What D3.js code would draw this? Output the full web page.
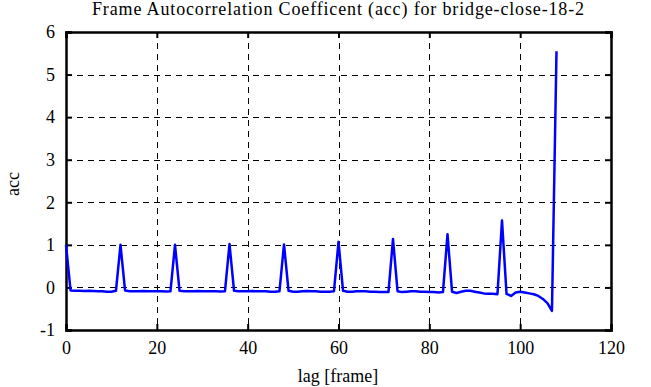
<!DOCTYPE html>
<html><head><meta charset="utf-8">
<script src="https://cdn.jsdelivr.net/npm/d3@7/dist/d3.min.js"></script>
<style>body{margin:0;background:#fff}svg{display:block}text{font-family:"Liberation Serif","DejaVu Serif",serif;fill:#000}</style>
</head><body><svg id="c" width="651" height="387"></svg>
<script>
const title = "Frame Autocorrelation Coefficent (acc) for bridge-close-18-2";
const xLabel = "lag [frame]";
const yLabel = "acc";
const xTicks = [0,20,40,60,80,100,120];
const yTicks = [-1,0,1,2,3,4,5,6];
const acc = [
 1.00,-0.07,-0.08,-0.08,-0.085,-0.08,-0.085,-0.09,-0.09,-0.10,-0.10,-0.08,
 1.00,-0.07,-0.09,-0.09,-0.09,-0.085,-0.09,-0.09,-0.09,-0.09,-0.095,-0.09,
 1.00,-0.08,-0.09,-0.09,-0.09,-0.085,-0.09,-0.09,-0.09,-0.09,-0.095,-0.09,
 1.02,-0.08,-0.09,-0.09,-0.09,-0.085,-0.09,-0.09,-0.09,-0.10,-0.10,-0.09,
 1.01,-0.08,-0.10,-0.10,-0.09,-0.085,-0.09,-0.09,-0.10,-0.10,-0.10,-0.09,
 1.07,-0.08,-0.10,-0.10,-0.09,-0.09,-0.09,-0.10,-0.10,-0.11,-0.11,-0.11,
 1.14,-0.09,-0.11,-0.10,-0.09,-0.09,-0.10,-0.10,-0.11,-0.11,-0.12,-0.11,
 1.25,-0.10,-0.13,-0.10,-0.08,-0.08,-0.10,-0.12,-0.14,-0.15,-0.15,-0.16,
 1.57,-0.15,-0.20,-0.12,-0.10,-0.12,-0.14,-0.16,-0.20,-0.27,-0.37,-0.55,
 5.55
];
const lags = acc.map((_, i) => i);

const FONT = "Liberation Serif, DejaVu Serif, serif";
const svg = d3.select("#c");
const m = {l:66, r:611, t:32, b:330};
const x = d3.scaleLinear().domain([0,120]).range([m.l, m.r]);
const y = d3.scaleLinear().domain([-1,6]).range([m.b, m.t]);
const fmt = d => String(d);

// grid
const grid = svg.append("g").attr("stroke","#000").attr("stroke-width",1).attr("stroke-dasharray","6,5");
xTicks.slice(1,-1).forEach(t => grid.append("line").attr("x1",Math.round(x(t))+0.5).attr("x2",Math.round(x(t))+0.5).attr("y1",m.t).attr("y2",m.b));
yTicks.slice(1,-1).forEach(t => grid.append("line").attr("y1",Math.round(y(t))+0.5).attr("y2",Math.round(y(t))+0.5).attr("x1",m.l).attr("x2",m.r));

// axes with inner ticks
const axB = d3.axisBottom(x).tickValues(xTicks).tickFormat(fmt).tickSize(-6).tickPadding(11);
const axT = d3.axisTop(x).tickValues(xTicks).tickSize(-6).tickFormat("");
const axL = d3.axisLeft(y).tickValues(yTicks).tickFormat(fmt).tickSize(-6).tickPadding(11);
const axR = d3.axisRight(y).tickValues(yTicks).tickSize(-6).tickFormat("");
function style(g){
  g.attr("font-family", FONT).attr("font-size", 18);
  g.selectAll("path,line").attr("stroke","#000").attr("stroke-width",2);
  g.selectAll("text").attr("font-family", FONT).attr("font-size", 18).attr("fill","#000");
}
svg.append("g").attr("transform",`translate(0,${m.b})`).call(axB).call(style);
svg.append("g").attr("transform",`translate(0,${m.t})`).call(axT).call(style);
svg.append("g").attr("transform",`translate(${m.l},0)`).call(axL).call(style);
svg.append("g").attr("transform",`translate(${m.r},0)`).call(axR).call(style);
svg.selectAll(".domain").attr("stroke-width",2.5);

// line
const line = d3.line().x((d,i)=>x(lags[i])).y(d=>y(d));
svg.append("path").datum(acc).attr("d",line).attr("fill","none").attr("stroke","#0000ff").attr("stroke-width",2.5).attr("stroke-linejoin","round");

svg.append("text").attr("x",338).attr("y",15).attr("text-anchor","middle").attr("font-family",FONT).attr("font-size",18)
  .attr("textLength",492).attr("lengthAdjust","spacing").text(title);
svg.append("text").attr("x",338).attr("y",382).attr("text-anchor","middle").attr("font-family",FONT).attr("font-size",18).text(xLabel);
svg.append("text").attr("transform","translate(19,184) rotate(-90)").attr("text-anchor","middle").attr("font-family",FONT).attr("font-size",18).text(yLabel);
</script></body></html>
